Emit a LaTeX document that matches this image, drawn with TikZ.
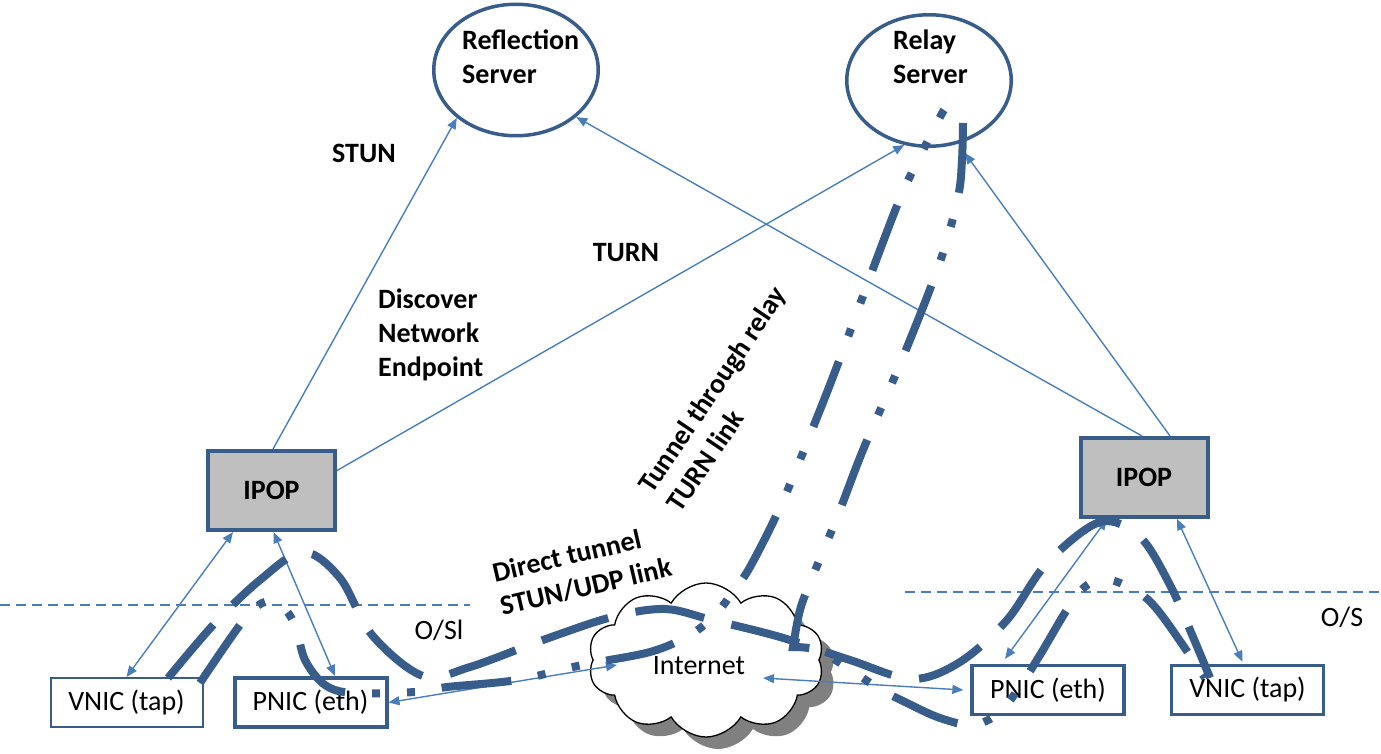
\documentclass[tikz,border=0pt]{standalone}
\usepackage{fontspec}
\setmainfont{Carlito}
\usetikzlibrary{shapes.geometric,shapes.symbols,arrows.meta}
\definecolor{dkblue}{RGB}{56,93,138}
\definecolor{ltblue}{RGB}{74,126,187}
\definecolor{boxgray}{RGB}{191,191,191}
\definecolor{shadowgray}{RGB}{128,128,128}
\begin{document}
\begin{tikzpicture}[x=1pt,y=-1pt,
  every node/.style={font=\fontsize{28}{34}\selectfont, inner sep=0pt},
  lbl/.style={font=\fontsize{28}{34}\selectfont\bfseries},
  srv/.style={ellipse, draw=dkblue, line width=3.5pt, fill=white, minimum width=164.5pt, minimum height=131.5pt},
  ipopbox/.style={rectangle, draw=dkblue, line width=4pt, fill=boxgray, minimum width=127pt, minimum height=79pt, font=\fontsize{28}{34}\selectfont\bfseries},
  nic/.style={rectangle, draw=dkblue, fill=white, minimum width=152pt, minimum height=49pt},
  cloudsh/.style={cloud, cloud puffs=10, cloud puff arc=120, aspect=1.5, minimum width=236pt, minimum height=154pt, inner sep=0pt},
  arr/.style={draw=ltblue, line width=1.4pt, -{Triangle[length=11pt,width=9pt]}},
  darr/.style={draw=ltblue, line width=1.4pt, {Triangle[length=11pt,width=9pt]}-{Triangle[length=11pt,width=9pt]}},
  sepline/.style={draw=ltblue, line width=1.4pt, dash pattern=on 10pt off 6pt},
  tun/.style={draw=dkblue, line width=8pt},
  directtun/.style={tun, dash pattern=on 70pt off 28pt},
  relaytun/.style={tun, dash pattern=on 70pt off 27pt on 8pt off 27pt on 8pt off 27pt}
]
\useasboundingbox (0,0) rectangle (1381,754);

% servers
\node[srv] (refl) at (516,70) {};
\node[lbl, align=left, anchor=north west] (reflT) at (462,30) {Reflection\\Server};
\node[srv] (relay) at (929,80.5) {};
\node[lbl, align=left, anchor=north west] (relayT) at (893,30) {Relay\\Server};

% boxes
\node[ipopbox] (ipopL) at (271.5,490.5) {IPOP};
\node[ipopbox] (ipopR) at (1144,477.5) {IPOP};
\node[nic, line width=2pt] (vnicL) at (126.5,702.5) {VNIC (tap)};
\node[nic, line width=4pt] (pnicL) at (310.5,702.5) {PNIC (eth)};
\node[nic, line width=3.3pt] (pnicR) at (1048,690) {PNIC (eth)};
\node[nic, line width=3.3pt] (vnicR) at (1247.5,690) {VNIC (tap)};

% cloud
\node[cloudsh, fill=shadowgray] (inetS) at (718,672) {};
\node[cloudsh, draw=black, line width=1.3pt, fill=white] (inet) at (706,660) {};
\node (inetT) at (699,666) {Internet};

% separators
\coordinate (sepLa) at (0,605);
\coordinate (sepLb) at (470,605);
\coordinate (sepRa) at (905,592);
\coordinate (sepRb) at (1381,592);
\draw[sepline] (sepLa) -- (sepLb);
\draw[sepline] (sepRa) -- (sepRb);
\node (osl) at (439,630) {O/Sl};
\node (os) at (1342,617) {O/S};

% thin arrows
\draw[arr] ([xshift=1.5pt]ipopL.north) -- (refl.219);
\draw[arr] ([yshift=20pt]ipopL.east) -- (relay.249.5);
\draw[arr] ([xshift=-2pt]ipopR.north) -- (refl.322);
\draw[arr] ([xshift=26pt]ipopR.north) -- ([shift={(4pt,-10pt)}]relay.297);
\draw[darr] ([xshift=-38.5pt]ipopL.south) -- (vnicL.north);
\draw[darr] ([xshift=2pt]ipopL.south) -- ([xshift=24.5pt]pnicL.north);
\draw[darr] (pnicL.east) -- ([xshift=-89pt,yshift=-5pt]inet.center);
\draw[darr] ([xshift=57pt,yshift=-18pt]inet.center) -- ([xshift=-7pt]pnicR.west);
\draw[darr] ([xshift=-37pt]ipopR.south) -- ([xshift=-43pt,yshift=5pt]pnicR.north);
\draw[darr] ([xshift=33pt]ipopR.south) -- ([xshift=-5pt,yshift=2pt]vnicR.north);

% labels
\node[lbl] (stun) at (364,153) {STUN};
\node[lbl] (turn) at (626,253) {TURN};
\node[lbl, align=left, anchor=north west] (disc) at (378,289) {Discover\\Network\\Endpoint};
\node[lbl, align=left, rotate=56] (tunT) at (726,399) {Tunnel through relay\\TURN link};
\node[lbl, align=left, rotate=13] (dirT) at (582,570) {Direct tunnel\\STUN/UDP link};

% direct tunnel (STUN/UDP)
\draw[directtun] plot[smooth, tension=0.55] coordinates {
  ([xshift=41.5pt,yshift=-1pt]vnicL.north) (215,623) (260,580) (303,552) (340,578)
  (372,635) (423,676) (470,667) (543,640) (612,617) (665,609) (712,620)
  (780,637) (850,660) (912,679) (960,662) (1007,620) (1047,563) (1100,522)
  (1140,537) (1170,585) (1193,637) ([xshift=-37.5pt,yshift=-14pt]vnicR.north)};

% tunnel through relay (TURN): up to the relay server
\draw[relaytun] plot[smooth, tension=0.55] coordinates {
  ([xshift=73.5pt,yshift=-6pt]vnicL.north) (240,625) (262,603) (280,604) (295,625) (305,660)
  (325,685) (353,693) (415,692) (447,687) (517,680) (582,665) (650,652)
  (690,635) (715,615) (732,593) (750,567) (782,503) (820,410) (845,345)
  (880,250) (905,187) (937,123) (944,110)};
% tunnel through relay (TURN): from the relay server down to the right VNIC
\draw[relaytun] plot[smooth, tension=0.55] coordinates {(963,123) (962,160) (958,197)
  (940,262) (903,357) (863,450) (838,515) (812,578) (800,610) (793,647)}
  -- plot[smooth, tension=0.55] coordinates {(793,647) (817,650) (848,668) (878,688)
  (907,703) (940,718) (973,725) (1000,712) (1023,682) (1040,655) (1077,595)
  (1103,579) (1136,591) (1160,613) ([xshift=-42.5pt,yshift=-14pt]vnicR.north)};
\end{tikzpicture}
\end{document}
